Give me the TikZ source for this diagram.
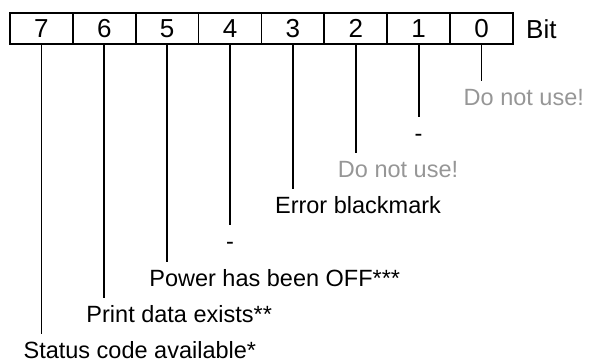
\documentclass[tikz,border=0pt]{standalone}
\usepackage{fontspec}
\setmainfont{Liberation Sans}
\usepackage{xcolor}
\usepackage{tikz}
\usetikzlibrary{positioning,calc}
\definecolor{grisclaro}{RGB}{150,150,150}

\begin{document}
\begin{tikzpicture}[x=1pt,y=-1pt,
bitcell/.style={draw,line width=1.8pt,outer sep=0pt,inner sep=0pt,minimum width=62.875pt,minimum height=30.7pt,font=\fontsize{26}{30}\selectfont},
lead/.style={line width=1.8pt},
lbl/.style={inner sep=0pt,anchor=base west,font=\fontsize{23.5}{28}\selectfont},
raya/.style={lbl,anchor=base},
libre/.style={lbl,text=grisclaro}
]
\useasboundingbox (0,0) rectangle (590,360);

\node[bitcell] (c7) at (41.4,28.7) {7};
\node[bitcell,right=0pt of c7] (c6) {6};
\node[bitcell,right=0pt of c6] (c5) {5};
\node[bitcell,right=0pt of c5] (c4) {4};
\node[bitcell,right=0pt of c4] (c3) {3};
\node[bitcell,right=0pt of c3] (c2) {2};
\node[bitcell,right=0pt of c2] (c1) {1};
\node[bitcell,right=0pt of c1] (c0) {0};
\node[inner sep=0pt,font=\fontsize{26}{30}\selectfont,right=13pt of c0] (bit) {Bit};

% ends of the leads
\coordinate (e0) at (c0.south |- 0,81);
\coordinate (e1) at (c1.south |- 0,117.1);
\coordinate (e2) at (c2.south |- 0,153.2);
\coordinate (e3) at (c3.south |- 0,189.3);
\coordinate (e4) at (c4.south |- 0,225.4);
\coordinate (e5) at (c5.south |- 0,261.5);
\coordinate (e6) at (c6.south |- 0,297.6);
\coordinate (e7) at (c7.south |- 0,333.7);

\draw[lead] (c0.south) -- (e0);
\draw[lead] (c1.south) -- (e1);
\draw[lead] (c2.south) -- (e2);
\draw[lead] (c3.south) -- (e3);
\draw[lead] (c4.south) -- (e4);
\draw[lead] (c5.south) -- (e5);
\draw[lead] (c6.south) -- (e6);
\draw[lead] (c7.south) -- (e7);

\node[libre] (l0) at ([shift={(-18,24.5)}]e0) {Do not use!};
\node[raya] (l1) at ([shift={(0,24.5)}]e1) {-};
\node[libre] (l2) at ([shift={(-18,24.5)}]e2) {Do not use!};
\node[lbl] (l3) at ([shift={(-18,24.5)}]e3) {Error blackmark};
\node[raya] (l4) at ([shift={(0,24.5)}]e4) {-};
\node[lbl] (l5) at ([shift={(-18,24.5)}]e5) {Power has been OFF***};
\node[lbl] (l6) at ([shift={(-18,24.5)}]e6) {Print data exists**};
\node[lbl] (l7) at ([shift={(-18,24.5)}]e7) {Status code available*};
\end{tikzpicture}
\end{document}
